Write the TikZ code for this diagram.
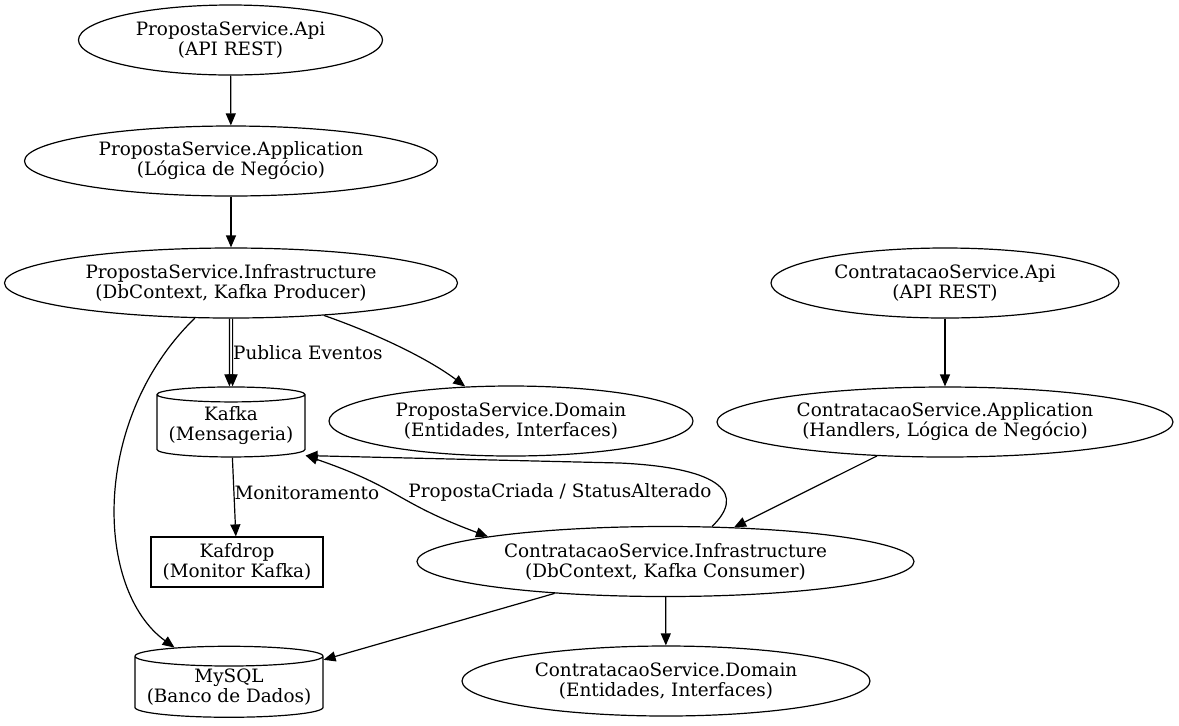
\documentclass[tikz,border=0pt]{standalone}
\usepackage{fontspec}
\setmainfont{DejaVu Serif}
\usetikzlibrary{shapes.geometric,arrows.meta}
\tikzset{
  elli/.style={ellipse, draw, line width=0.6pt, inner sep=0pt, align=center, minimum height=35pt},
  cyl/.style={cylinder, shape border rotate=90, aspect=0.12, draw, line width=0.6pt, inner sep=0pt, align=center},
  boxed/.style={rectangle, draw, line width=0.6pt, inner sep=0pt, align=center, minimum width=86pt, minimum height=25pt},
  arr/.style={-{Triangle[length=6pt,width=5pt]}, line width=0.6pt},
  arrs/.style={{Triangle[length=6pt,width=5pt]}-{Triangle[length=6pt,width=5pt]}, line width=0.6pt},
  lbl/.style={inner sep=0pt, anchor=west}
}
\begin{document}
\begin{tikzpicture}[x=0.5pt, y=-0.5pt, font=\fontsize{9.2}{10}\selectfont]
    \useasboundingbox (0, 0) rectangle (1179, 725);
     \node[elli, minimum width=152pt] (papi) at(230.5, 40){PropostaService.Api\\(API REST)};
     \node[elli, minimum width=206.5pt] (papp) at(231, 161){PropostaService.Application\\(Lógica de Negócio)};
     \node[elli, minimum width=226.5pt] (pinfra) at(231, 283){PropostaService.Infrastructure\\(DbContext, Kafka Producer)};
     \node[elli, minimum width=182pt] (pdom) at(511, 421){PropostaService.Domain\\(Entidades, Interfaces)};
        \node[cyl, minimum width=74pt, minimum height=35pt] (kafka) at(231, 426){Kafka\\(Mensageria)};
        \node[boxed] (kafdrop) at(237, 562){Kafdrop\\(Monitor Kafka)};
        \node[cyl, minimum width=94pt, minimum height=35.5pt] (mysql) at(229, 687){MySQL\\(Banco de Dados)};
     \node[elli, minimum width=174pt] (capi) at(945, 283){ContratacaoService.Api\\(API REST)};
     \node[elli, minimum width=228pt] (capp) at(945, 422){ContratacaoService.Application\\(Handlers, Lógica de Negócio)};
     \node[elli, minimum width=248.5pt] (cinfra) at(665.5, 561.5){ContratacaoService.Infrastructure\\(DbContext, Kafka Consumer)};
     \node[elli, minimum width=204pt] (cdom) at(666, 681){ContratacaoService.Domain\\(Entidades, Interfaces)};
        \coordinate (kin) at([yshift=1pt]kafka.east |- kafka.south);

        \draw[arr](papi) to (papp);
        \draw[arr](papp) to (pinfra);
        \draw[arr]([xshift=-0.8pt]pinfra.south) to ([xshift=-0.8pt]kafka.north);
        \draw[arr]([xshift=0.8pt]pinfra.south) to node[lbl, pos=0.5]{Publica Eventos} ([xshift=0.8pt]kafka.north);
        \draw[arr](pinfra) .. controls (380, 335) and (430, 360) .. (pdom);
        \draw[arr](pinfra) .. controls (90, 420) and (95, 590) .. (mysql);
        \draw[arr](kafka) to node[lbl, pos=0.45]{Monitoramento} (kafdrop);

        \draw[arr](capi) to (capp);
        \draw[arr](capp) to (cinfra);
        \draw[arr](cinfra) to (mysql);
        \draw[arr](cinfra) to (cdom);

        \draw[arrs](kin) .. controls (400, 488) and (395, 502) .. (cinfra.172);
        \node[inner sep=0pt] (evt) at(560, 492){PropostaCriada / StatusAlterado};
        \draw[arr](cinfra.37) .. controls (745, 495) and (725, 468) .. (620, 463) -- (kin);
    \end{tikzpicture}
\end{document}
